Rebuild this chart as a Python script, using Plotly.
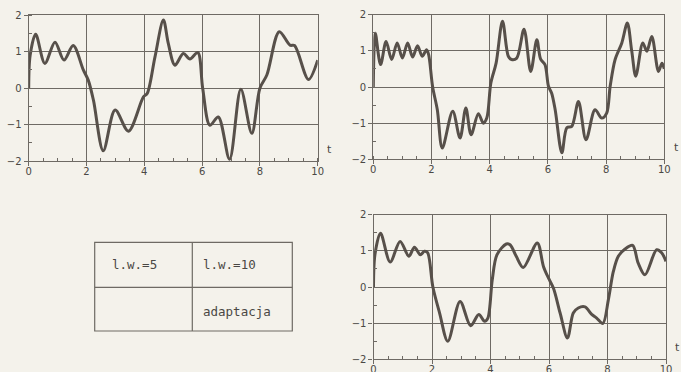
import plotly.graph_objects as go

# ---- data ----
t_a = [0, 0.05, 0.24, 0.56, 0.91, 1.22, 1.54, 1.89, 2.06, 2.24, 2.58, 2.99, 3.45, 3.97, 4.1,
       4.37, 4.66, 4.83, 5.06, 5.35, 5.58, 5.85, 6.02, 6.27, 6.56, 6.95, 7.34, 7.72, 8.0, 8.24,
       8.67, 9.04, 9.2, 9.68, 10]
v_a = [0, 0.9, 1.48, 0.68, 1.26, 0.77, 1.17, 0.5, 0.22, -0.33, -1.72, -0.6, -1.18, -0.24, -0.15,
       0.86, 1.87, 1.23, 0.63, 0.95, 0.8, 0.98, 0.0, -1.02, -0.79, -1.95, -0.03, -1.24, 0.0, 0.36,
       1.55, 1.18, 1.17, 0.24, 0.77]

t_b = [0, 0.03, 0.07, 0.25, 0.44, 0.63, 0.82, 1.0, 1.18, 1.35, 1.52, 1.68, 1.83, 1.9, 2.04,
       2.2, 2.37, 2.73, 2.98, 3.18, 3.36, 3.61, 3.78, 3.9, 4.04, 4.22, 4.44, 4.64, 4.75, 4.93,
       5.18, 5.41, 5.62, 5.75, 5.9, 6.02, 6.13, 6.25, 6.48, 6.65, 6.82, 7.05, 7.31, 7.62, 7.85,
       8.02, 8.14, 8.31, 8.54, 8.73, 8.88, 9.02, 9.26, 9.4, 9.57, 9.8, 9.92, 10]
v_b = [0, 1.1, 1.49, 0.62, 1.26, 0.76, 1.22, 0.8, 1.22, 0.83, 1.14, 0.85, 1.03, 0.9, 0.0,
       -0.63, -1.69, -0.67, -1.41, -0.58, -1.32, -0.74, -1.0, -0.86, 0.11, 0.66, 1.82, 0.85, 0.76, 0.8,
       1.6, 0.43, 1.31, 0.77, 0.62, 0.02, -0.17, -0.63, -1.82, -1.13, -1.09, -0.4, -1.46, -0.63, -0.86,
       -0.72, 0.02, 0.76, 1.22, 1.77, 1.0, 0.3, 1.22, 0.99, 1.4, 0.43, 0.66, 0.5]

t_c = [0, 0.05, 0.24, 0.57, 0.91, 1.21, 1.4, 1.6, 1.74, 1.85, 2.03, 2.26, 2.54, 2.96, 3.32,
       3.6, 3.8, 3.91, 4.06, 4.22, 4.54, 4.67, 4.88, 5.12, 5.6, 5.81, 5.98, 6.15, 6.38, 6.63,
       6.83, 7.0, 7.23, 7.46, 7.63, 7.84, 8.03, 8.2, 8.37, 8.6, 8.86, 9.05, 9.28, 9.68, 9.85, 10]
v_c = [0, 0.9, 1.49, 0.69, 1.26, 0.85, 1.1, 0.89, 0.99, 0.95, 0.0, -0.72, -1.5, -0.4, -1.07,
       -0.76, -0.95, -0.86, 0.2, 0.89, 1.19, 1.17, 0.85, 0.54, 1.22, 0.57, 0.25, -0.03, -0.72, -1.41,
       -0.72, -0.58, -0.55, -0.76, -0.86, -1.01, -0.35, 0.43, 0.85, 1.05, 1.15, 0.66, 0.34, 1.03, 0.95, 0.71]

x_ticks = [0, 2, 4, 6, 8, 10]
y_ticks = [-2, -1, 0, 1, 2]
table_cells = [["l.w.=5", "l.w.=10"], ["", "adaptacja"]]

W, H = 681, 372
BG = "#f4f2eb"
LINE = "#57504a"
GRID = "#6e6a64"
TXT = "#4a4844"

fig = go.Figure()
series = [(t_a, v_a, "x", "y"), (t_b, v_b, "x2", "y2"), (t_c, v_c, "x3", "y3")]
for t, v, xa, ya in series:
    fig.add_trace(go.Scatter(x=t, y=v, xaxis=xa, yaxis=ya, mode="lines",
                             line=dict(color=LINE, width=3, shape="spline", smoothing=0.9),
                             showlegend=False, hoverinfo="skip"))

def px_x(p):
    return p / W

def px_y(p):
    return 1 - p / H

domains = [
    ((28.7, 317.7), (15.3, 161.0)),
    ((373.3, 664.3), (14.7, 159.3)),
    ((373.5, 666.0), (214.7, 359.3)),
]

axis_common = dict(
    showgrid=True, gridcolor=GRID, gridwidth=1.2,
    showline=True, linecolor=GRID, linewidth=1.2, mirror=True,
    zeroline=False, ticks="outside", ticklen=4, tickcolor=GRID, tickwidth=1,
    automargin=False,
    tickfont=dict(family="DejaVu Sans", size=10, color=TXT),
)

layout = dict(width=W, height=H, margin=dict(l=0, r=0, t=0, b=0),
              paper_bgcolor=BG, plot_bgcolor=BG)
for i, ((x0, x1), (y0, y1)) in enumerate(domains):
    sfx = "" if i == 0 else str(i + 1)
    layout["xaxis" + sfx] = dict(axis_common, domain=[px_x(x0), px_x(x1)], range=[0, 10],
                                 tickvals=x_ticks, anchor="y" + sfx, ticklabelstandoff=-3,
                                 minor=dict(dtick=0.5, ticks="inside", ticklen=3, tickcolor=GRID,
                                            showgrid=False))
    layout["yaxis" + sfx] = dict(axis_common, domain=[px_y(y1), px_y(y0)], range=[-2, 2],
                                 tickvals=y_ticks, anchor="x" + sfx,
                                 minor=dict(dtick=0.5, ticks="inside", ticklen=3, tickcolor=GRID,
                                            showgrid=False))
fig.update_layout(**layout)

# "t" axis labels
for i in range(3):
    sfx = "" if i == 0 else str(i + 1)
    fig.add_annotation(text="t", xref="x" + sfx + " domain", yref="y" + sfx + " domain",
                       x=1.025, y=0.02, xanchor="left", yanchor="bottom", showarrow=False,
                       font=dict(family="DejaVu Sans", size=11, color=TXT))

# table
L, R, T, B, MV, MH = 94.7, 292.3, 242.3, 331.0, 192.3, 287.3
tbl_line = dict(color=GRID, width=1.2)
fig.add_shape(type="rect", xref="paper", yref="paper", x0=px_x(L), x1=px_x(R),
              y0=px_y(B), y1=px_y(T), line=tbl_line)
fig.add_shape(type="line", xref="paper", yref="paper", x0=px_x(MV), x1=px_x(MV),
              y0=px_y(B), y1=px_y(T), line=tbl_line)
fig.add_shape(type="line", xref="paper", yref="paper", x0=px_x(L), x1=px_x(R),
              y0=px_y(MH), y1=px_y(MH), line=tbl_line)

cell_x = [110.0, 201.0]
cell_y = [264.5, 311.5]
for r, row in enumerate(table_cells):
    for c, txt in enumerate(row):
        if txt:
            fig.add_annotation(text=txt, xref="paper", yref="paper",
                               x=px_x(cell_x[c]), y=px_y(cell_y[r]),
                               xanchor="left", yanchor="middle", showarrow=False,
                               font=dict(family="DejaVu Sans Mono", size=12.5, color=TXT))

fig.write_html("out.html", config={"displayModeBar": False},
               post_script="document.body.style.margin='0';document.body.style.overflow='hidden';"
                           "document.body.style.background='" + BG + "';")
